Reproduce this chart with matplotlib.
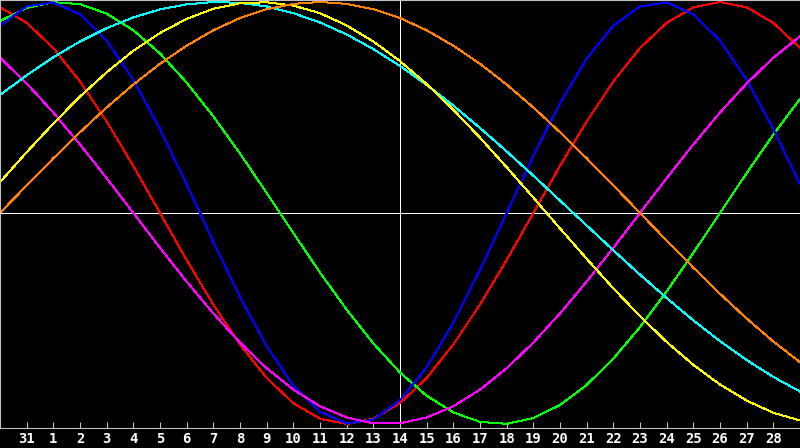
import numpy as np
import matplotlib
matplotlib.use("Agg")
import matplotlib.pyplot as plt

# days shown (30 Jan .. 1 Mar), labels only on the inner ones
days = ["30", "31"] + [str(d) for d in range(1, 29)] + ["1"]
label_days = days[1:-1]

# cycle values, one point per day
physical = [0.888, 0.979, 0.998, 0.942, 0.817, 0.631, 0.398, 0.136, -0.136, -0.398,
            -0.631, -0.817, -0.942, -0.998, -0.979, -0.888, -0.731, -0.520, -0.270, 0.0,
            0.270, 0.520, 0.731, 0.888, 0.979, 0.998, 0.942, 0.817, 0.631, 0.398, 0.136]
emotional = [0.975, 0.901, 0.782, 0.623, 0.434, 0.223, 0.0, -0.223, -0.434, -0.623,
             -0.782, -0.901, -0.975, -1.0, -0.975, -0.901, -0.782, -0.623, -0.434, -0.223,
             0.0, 0.223, 0.434, 0.623, 0.782, 0.901, 0.975, 1.0, 0.975, 0.901, 0.782]
intellectual = [0.910, 0.972, 0.999, 0.990, 0.945, 0.866, 0.756, 0.618, 0.458, 0.282,
                0.095, -0.095, -0.282, -0.458, -0.618, -0.756, -0.866, -0.945, -0.990, -0.999,
                -0.972, -0.910, -0.815, -0.690, -0.541, -0.372, -0.189, 0.0, 0.189, 0.372, 0.541]
intuitive = [0.736, 0.614, 0.476, 0.325, 0.165, 0.0, -0.165, -0.325, -0.476, -0.614,
             -0.736, -0.837, -0.916, -0.969, -0.997, -0.997, -0.969, -0.916, -0.837, -0.736,
             -0.614, -0.476, -0.325, -0.165, 0.0, 0.165, 0.325, 0.476, 0.614, 0.736, 0.837]
aesthetic = [0.146, 0.288, 0.424, 0.552, 0.667, 0.769, 0.853, 0.920, 0.968, 0.994,
             0.999, 0.983, 0.947, 0.889, 0.813, 0.720, 0.611, 0.489, 0.357, 0.217,
             0.073, -0.073, -0.217, -0.357, -0.489, -0.611, -0.720, -0.813, -0.889, -0.947, -0.983]
awareness = [0.0, 0.131, 0.259, 0.383, 0.5, 0.609, 0.707, 0.793, 0.866, 0.924,
             0.966, 0.991, 1.0, 0.991, 0.966, 0.924, 0.866, 0.793, 0.707, 0.609,
             0.5, 0.383, 0.259, 0.131, 0.0, -0.131, -0.259, -0.383, -0.5, -0.609, -0.707]
spiritual = [0.559, 0.653, 0.738, 0.813, 0.876, 0.927, 0.965, 0.989, 1.0, 0.996,
             0.979, 0.947, 0.903, 0.846, 0.777, 0.697, 0.607, 0.509, 0.403, 0.292,
             0.177, 0.059, -0.059, -0.177, -0.292, -0.403, -0.509, -0.607, -0.697, -0.777, -0.846]

series = [
    (emotional, "#ff0000"),
    (intellectual, "#00ff00"),
    (physical, "#0000ff"),
    (intuitive, "#ff00ff"),
    (spiritual, "#00ffff"),
    (aesthetic, "#ffff00"),
    (awareness, "#ff8000"),
]

fig = plt.figure(figsize=(8, 4.48), dpi=100, facecolor="black")
ax = fig.add_axes([0, 20 / 448, 1, 428 / 448], facecolor="black")

x = np.arange(len(days))
ax.axhline(0, color="white", lw=0.72, antialiased=False, zorder=1)
ax.axvline(15, color="white", lw=0.72, antialiased=False, zorder=1)
for vals, col in series:
    ax.plot(x, vals, color=col, lw=0.72, antialiased=False, zorder=2)

ax.set_xlim(0, 30)
ax.set_ylim(-215 / 211, 213 / 211)
ax.set_yticks([])
ax.set_xticks(x[1:-1])
ax.set_xticklabels(label_days, color="white", fontsize=10, fontweight="bold",
                   family="DejaVu Sans Mono")
ax.tick_params(axis="x", direction="in", length=4, width=0.8, color="#c0c0c0", pad=3)

for side in ["left", "top", "bottom"]:
    ax.spines[side].set_color("#c0c0c0")
    ax.spines[side].set_linewidth(0.8)
ax.spines["right"].set_visible(False)

fig.savefig("out.png", dpi=100, facecolor="black")
